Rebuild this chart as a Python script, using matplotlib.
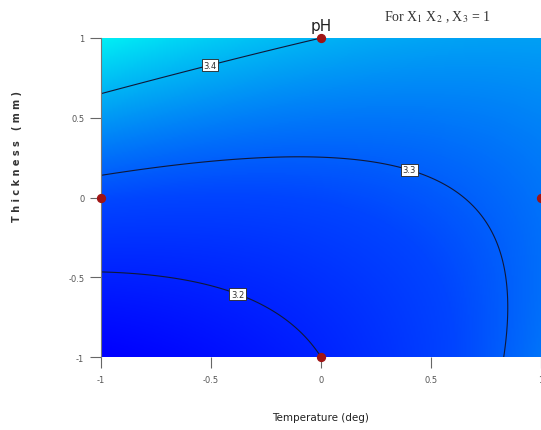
import numpy as np
import matplotlib
matplotlib.use("Agg")
from matplotlib import pyplot as plt
from matplotlib.colors import LinearSegmentedColormap

plt.rcParams["mathtext.fontset"] = "stix"

# fitted quadratic response model for pH: b0, b1 (x), b2 (y), b12 (xy), b11 (x^2), b22 (y^2)
coef_names = ["b0", "b1", "b2", "b12", "b11", "b22"]
coef_values = [3.273, 0.0243, 0.100, -0.074, 0.0266, 0.027]

levels = [3.2, 3.3, 3.4]
label_pos = [(-0.37, -0.57), (0.41, 0.21), (-0.51, 0.86)]

design_x = [0, -1, 1, 0]
design_y = [1, 0, 0, -1]

ticks = [-1, -0.5, 0, 0.5, 1]
tick_labels = ["-1", "-0.5", "0", "0.5", "1"]

b = dict(zip(coef_names, coef_values))


def response(x, y):
    return (b["b0"] + b["b1"] * x + b["b2"] * y + b["b12"] * x * y
            + b["b11"] * x ** 2 + b["b22"] * y ** 2)


fig = plt.figure(figsize=(5.41, 4.31), dpi=100)
ax = fig.add_axes([101 / 541, 1 - 358 / 431, 440 / 541, 319 / 431])

gx, gy = np.meshgrid(np.linspace(-1, 1, 300), np.linspace(-1, 1, 300))
gz = response(gx, gy)

cmap = LinearSegmentedColormap.from_list(
    "de", [(0.0, (0, 0, 1)), (0.4, (0, 0.27, 1)), (0.7, (0, 0.62, 0.96)), (1.0, (0, 0.95, 0.96))])
ax.imshow(gz, extent=(-1, 1, -1, 1), origin="lower", cmap=cmap, vmin=3.13, vmax=3.48,
          aspect="auto", interpolation="bilinear")

cs = ax.contour(gx, gy, gz, levels=levels, colors="#101838", linewidths=0.8)
labels = ax.clabel(cs, fmt="%.1f", inline=False, fontsize=6, manual=label_pos, colors="#333333")
for t in labels:
    t.set_rotation(0)
    t.set_bbox(dict(facecolor="white", edgecolor="#222222", linewidth=0.6, pad=1.2))

ax.scatter(design_x, design_y, s=32, color="#a01414", marker="o", zorder=5, clip_on=False)

ax.set_xlim(-1, 1)
ax.set_ylim(-1, 1)
ax.set_xticks(ticks)
ax.set_xticklabels(tick_labels)
ax.set_yticks(ticks)
ax.set_yticklabels(tick_labels)
ax.tick_params(direction="out", length=8, width=0.8, colors="#666666", labelsize=6, labelcolor="#555555")
ax.tick_params(axis="x", pad=5)
ax.tick_params(axis="y", pad=4)
for side in ["top", "right", "bottom"]:
    ax.spines[side].set_visible(False)
ax.spines["left"].set_color("#777777")
ax.spines["left"].set_linewidth(0.8)

fig.text(321 / 541, 1 - 418 / 431, "Temperature (deg)", ha="center", va="center", fontsize=7.5, color="#222222")
fig.text(17 / 541, 1 - 157 / 431, "T h i c k n e s s   ( m m )", ha="center", va="center", rotation=90,
         fontsize=7, fontweight="bold", color="#333333")
fig.text(321 / 541, 1 - 26 / 431, "pH", ha="center", va="center", fontsize=11, color="#222222")
fig.text(384 / 541, 1 - 17 / 431, "For X$_1$ X$_2$ , X$_3$ = 1", ha="left", va="center", fontsize=10,
         family="Liberation Serif", color="#333333")

fig.savefig("out.png", dpi=100)
